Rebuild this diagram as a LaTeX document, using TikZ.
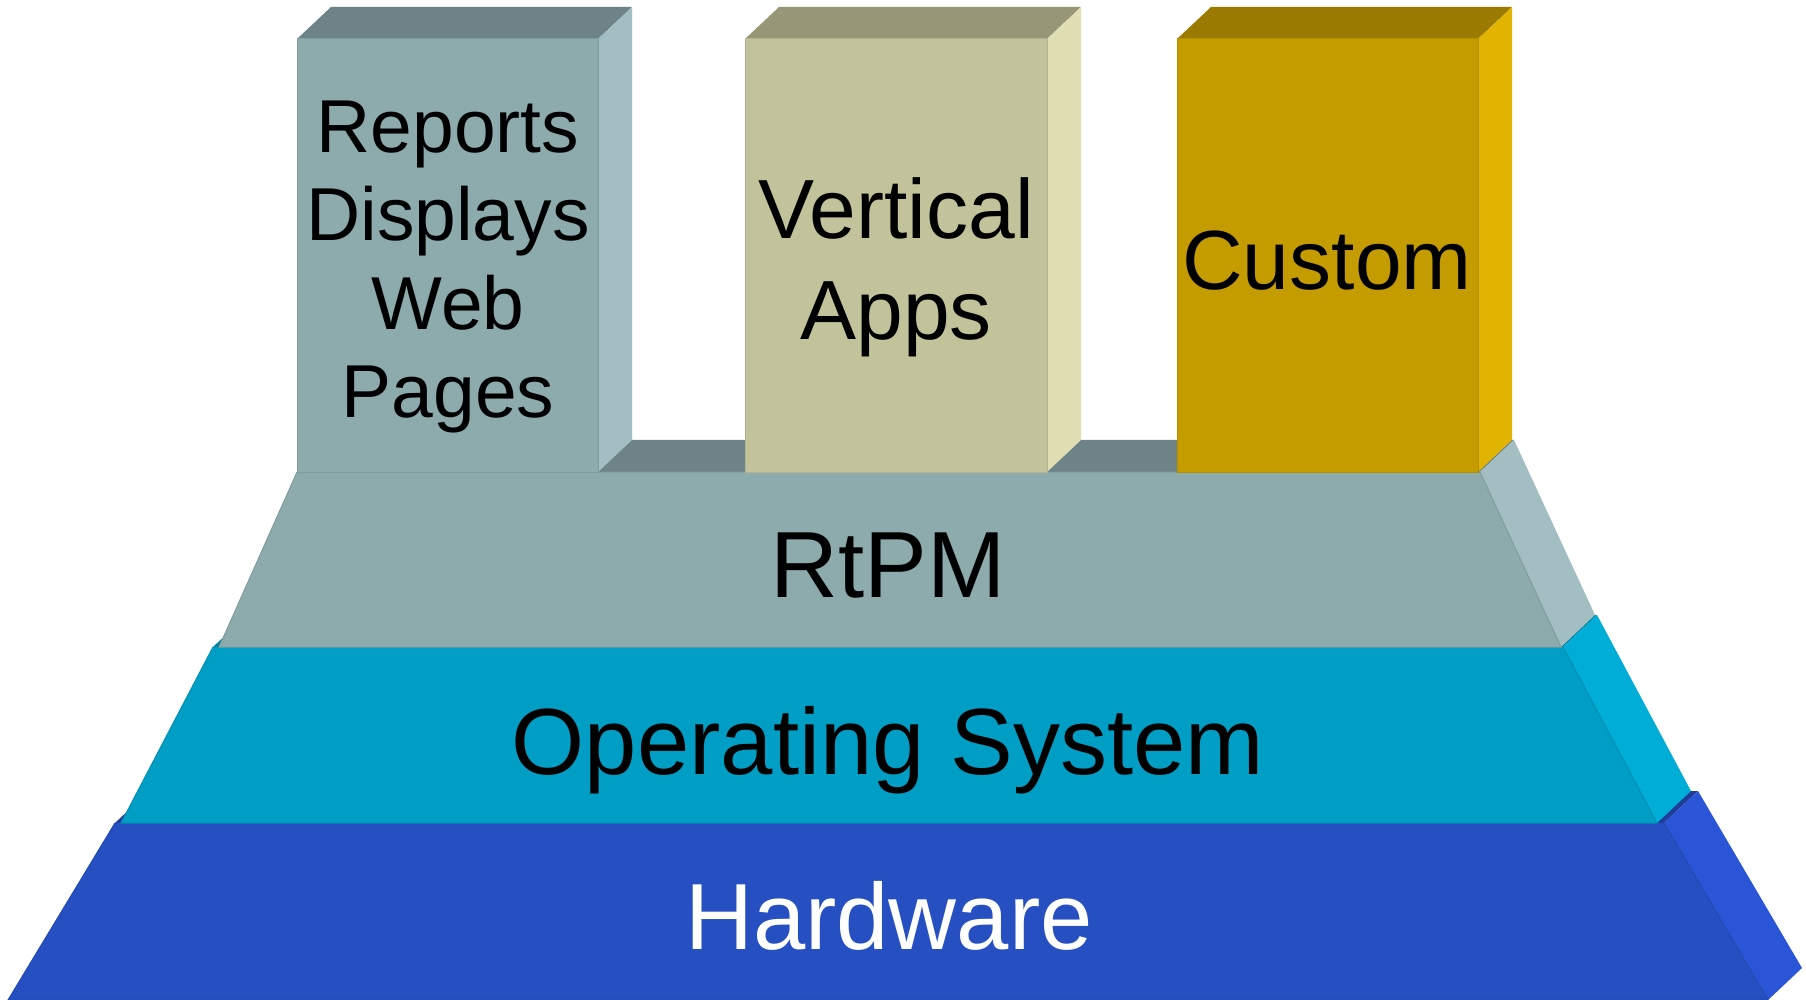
\documentclass[tikz,border=0pt]{standalone}
\usepackage{fontspec}
\setmainfont{Liberation Sans}
\definecolor{rtpmfront}{HTML}{8DAAAC}
\definecolor{rtpmside}{HTML}{A2BEC2}
\definecolor{rtpmtop}{HTML}{6E8387}
\definecolor{appfront}{HTML}{C2C29B}
\definecolor{appside}{HTML}{E0DFB3}
\definecolor{apptop}{HTML}{979677}
\definecolor{custfront}{HTML}{C49C00}
\definecolor{custside}{HTML}{E0B400}
\definecolor{custtop}{HTML}{9A7B00}
\definecolor{osfront}{HTML}{009DC4}
\definecolor{osside}{HTML}{00ADD7}
\definecolor{ostop}{HTML}{00809F}
\definecolor{hwfront}{HTML}{264FC1}
\definecolor{hwside}{HTML}{2B55D7}
\definecolor{hwtop}{HTML}{1E3C98}

% slab: top-left x, top-right x, top y, bottom-left x, bottom-right x, bottom y, front, side, top
\newcommand{\slab}[9]{%
  \fill[#9] (#1,#3) -- (#2,#3) -- ++(34,-32) -- (#1+34,#3-32) -- cycle;
  \fill[#8] (#5,#6) -- (#2,#3) -- ++(34,-32) -- (#5+34,#6-32) -- cycle;
  \filldraw[fill=#7, draw=#7!92!black, line width=0.5pt] (#4,#6) -- (#5,#6) -- (#2,#3) -- (#1,#3) -- cycle;
}

\begin{document}
\begin{tikzpicture}[
	x               = 0.5pt,
	y               = -0.5pt,
	layer/.style    = {anchor=base, font=\fontsize{47}{56}\selectfont},
	app/.style      = {anchor=base, align=center, font=\fontsize{42}{51}\selectfont},
	report/.style   = {anchor=base, align=center, font=\fontsize{37.5}{44.3}\selectfont}]
  \useasboundingbox (0,0) rectangle (1806,1000);
  \slab{115}{1664}{823}{8}{1768}{1000}{hwfront}{hwside}{hwtop}
  \slab{213}{1563}{647}{121}{1657}{823}{osfront}{osside}{ostop}
  \slab{297}{1480}{472}{219}{1561}{647}{rtpmfront}{rtpmside}{rtpmtop}
  \slab{297}{598}{39}{297}{598}{472}{rtpmfront}{rtpmside}{rtpmtop}
  \slab{745}{1047}{39}{745}{1047}{472}{appfront}{appside}{apptop}
  \slab{1177}{1478}{39}{1177}{1478}{472}{custfront}{custside}{custtop}
  \node[layer, white] (hw)   at (889,949) {Hardware};
  \node[layer]        (os)   at (888,774) {Operating System};
  \node[layer]        (rtpm) at (888,597) {RtPM};
  \node[report]   (reports)  at (448,418) {Reports\\Displays\\Web\\Pages};
  \node[app]      (vertical) at (896,340) {Vertical\\Apps};
  \node[app]      (custom)   at (1327,290) {Custom};
\end{tikzpicture}
\end{document}
